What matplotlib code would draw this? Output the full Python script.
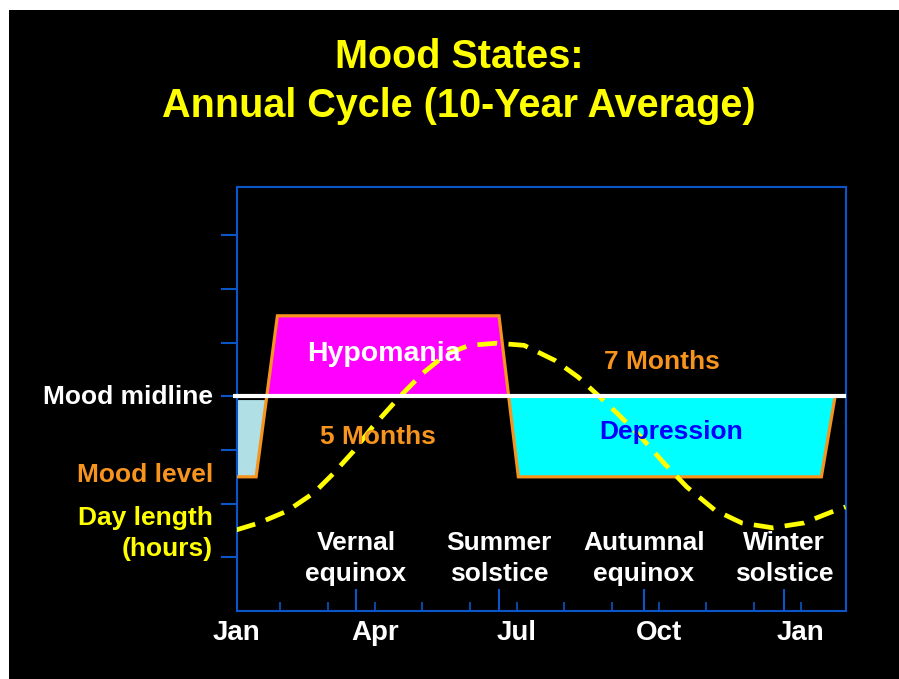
import matplotlib
matplotlib.use('Agg')
import matplotlib.pyplot as plt
from matplotlib.patches import Rectangle
import numpy as np

plt.rcParams['font.family'] = ['Liberation Sans', 'DejaVu Sans']
plt.rcParams['font.weight'] = 'bold'

# ---- data (x in months from Jan 1, y in chart units) ----
mood_x = [0.078, 0.49, 0.94, 5.62, 6.03, 12.43, 12.72]
mood_y = [2.5, 2.5, 5.5, 5.5, 2.5, 2.5, 4.0]
midline = 4.0

day_x = [0.07, 0.55, 1.14, 1.71, 2.11, 2.54, 2.94, 3.51, 4.01, 4.50, 4.99, 5.58,
         6.15, 6.80, 7.29, 7.71, 8.11, 8.62, 9.10, 9.59, 10.18, 10.75, 11.40,
         12.06, 12.63, 12.94]
day_y = [1.51, 1.64, 1.86, 2.20, 2.55, 2.97, 3.42, 3.98, 4.43, 4.78, 4.95, 4.99,
         4.95, 4.67, 4.36, 4.02, 3.69, 3.24, 2.76, 2.31, 1.88, 1.64, 1.55,
         1.64, 1.84, 1.94]

month_ticks = [0.078, 1, 2, 3, 4, 5, 6, 7, 8, 9, 10, 11, 12]
month_labels = ['Jan', '', '', 'Apr', '', '', 'Jul', '', '', 'Oct', '', '', 'Jan']
event_pos = [2.60, 5.62, 8.68, 11.64]
event_labels = ['Vernal\nequinox', 'Summer\nsolstice', 'Autumnal\nequinox', 'Winter\nsolstice']
ytick_pos = [1, 2, 3, 4, 5, 6, 7]
xlim = (0.078, 12.94)
ylim = (0.0, 7.9)

BLUE = '#0a55c8'
ORANGE = '#f7941e'
YELLOW = '#ffff00'

fig = plt.figure(figsize=(8.99, 6.79), dpi=100, facecolor='white')
fig.patches.append(Rectangle((9 / 899, 0), 1 - 9 / 899, 1 - 10 / 679,
                             transform=fig.transFigure, facecolor='black',
                             edgecolor='none', zorder=-10))

ax = fig.add_axes([236.6 / 899, 1 - 611 / 679, (845.5 - 236.6) / 899, (611 - 187) / 679])
ax.set_facecolor('black')
ax.set_xlim(*xlim)
ax.set_ylim(*ylim)

# fills
mx = np.array(mood_x)
my = np.array(mood_y)
ax.fill_between(mx, my, midline, where=(my >= midline), interpolate=True,
                facecolor='#ff00ff', edgecolor='none', zorder=1)
ax.fill_between(mx, my, midline - 0.07, where=(my <= midline) & (mx < 3), interpolate=True,
                facecolor='#b0dfe5', edgecolor='none', zorder=1)
ax.fill_between(mx, my, midline, where=(my <= midline) & (mx > 3), interpolate=True,
                facecolor='#00ffff', edgecolor='none', zorder=1)

ax.plot(mood_x, mood_y, color=ORANGE, lw=2.3, zorder=3, solid_joinstyle='miter')
ax.plot(day_x, day_y, color=YELLOW, lw=3.4, dashes=(4.2, 2.4), zorder=4,
        dash_capstyle='butt')
ax.plot([0.0, xlim[1]], [midline, midline], color='white', lw=3, zorder=5,
        clip_on=False, solid_capstyle='butt')

# ticks
ax.set_xticks(event_pos, labels=[''] * len(event_pos))
ax.set_xticks(month_ticks, labels=month_labels, minor=True)
ax.tick_params(axis='x', which='major', direction='in', length=16, width=1.5, color=BLUE)
ax.tick_params(axis='x', which='minor', direction='in', length=6.5, width=1.2, color=BLUE,
               labelsize=20, labelcolor='white', pad=6.5)
ax.set_yticks(ytick_pos, labels=[''] * len(ytick_pos))
ax.tick_params(axis='y', which='major', direction='out', length=11.5, width=1.5, color=BLUE)
for s in ax.spines.values():
    s.set_color(BLUE)
    s.set_linewidth(1.5)

# in-plot texts
for xp, lab in zip(event_pos, event_labels):
    ax.text(xp, 0.98, lab, ha='center', va='center', color='white', fontsize=19,
            linespacing=1.35, zorder=6)
ax.text(3.19, 4.78, 'Hypomania', ha='center', va='center', color='white', fontsize=20.5, zorder=6)
ax.text(9.25, 3.34, 'Depression', ha='center', va='center', color='#0000ff', fontsize=19, zorder=6)
ax.text(3.06, 3.24, '5 Months', ha='center', va='center', color=ORANGE, fontsize=19, zorder=6)
ax.text(9.06, 4.64, '7 Months', ha='center', va='center', color=ORANGE, fontsize=19, zorder=6)

# left labels
ax.text(-0.42, 3.98, 'Mood midline', ha='right', va='center', color='white', fontsize=19, clip_on=False)
ax.text(-0.42, 2.53, 'Mood level', ha='right', va='center', color=ORANGE, fontsize=19, clip_on=False)
ax.text(-0.42, 1.44, 'Day length\n(hours)', ha='right', va='center', color=YELLOW, fontsize=19,
        linespacing=1.35, multialignment='right', clip_on=False)

# title
fig.text(459 / 899, 1 - 68 / 679, 'Mood States:', ha='center', va='baseline', color=YELLOW, fontsize=28.5)
fig.text(459 / 899, 1 - 117 / 679, 'Annual Cycle (10-Year Average)', ha='center', va='baseline',
         color=YELLOW, fontsize=28.5)

fig.savefig('out.png', dpi=100, facecolor=fig.get_facecolor())
